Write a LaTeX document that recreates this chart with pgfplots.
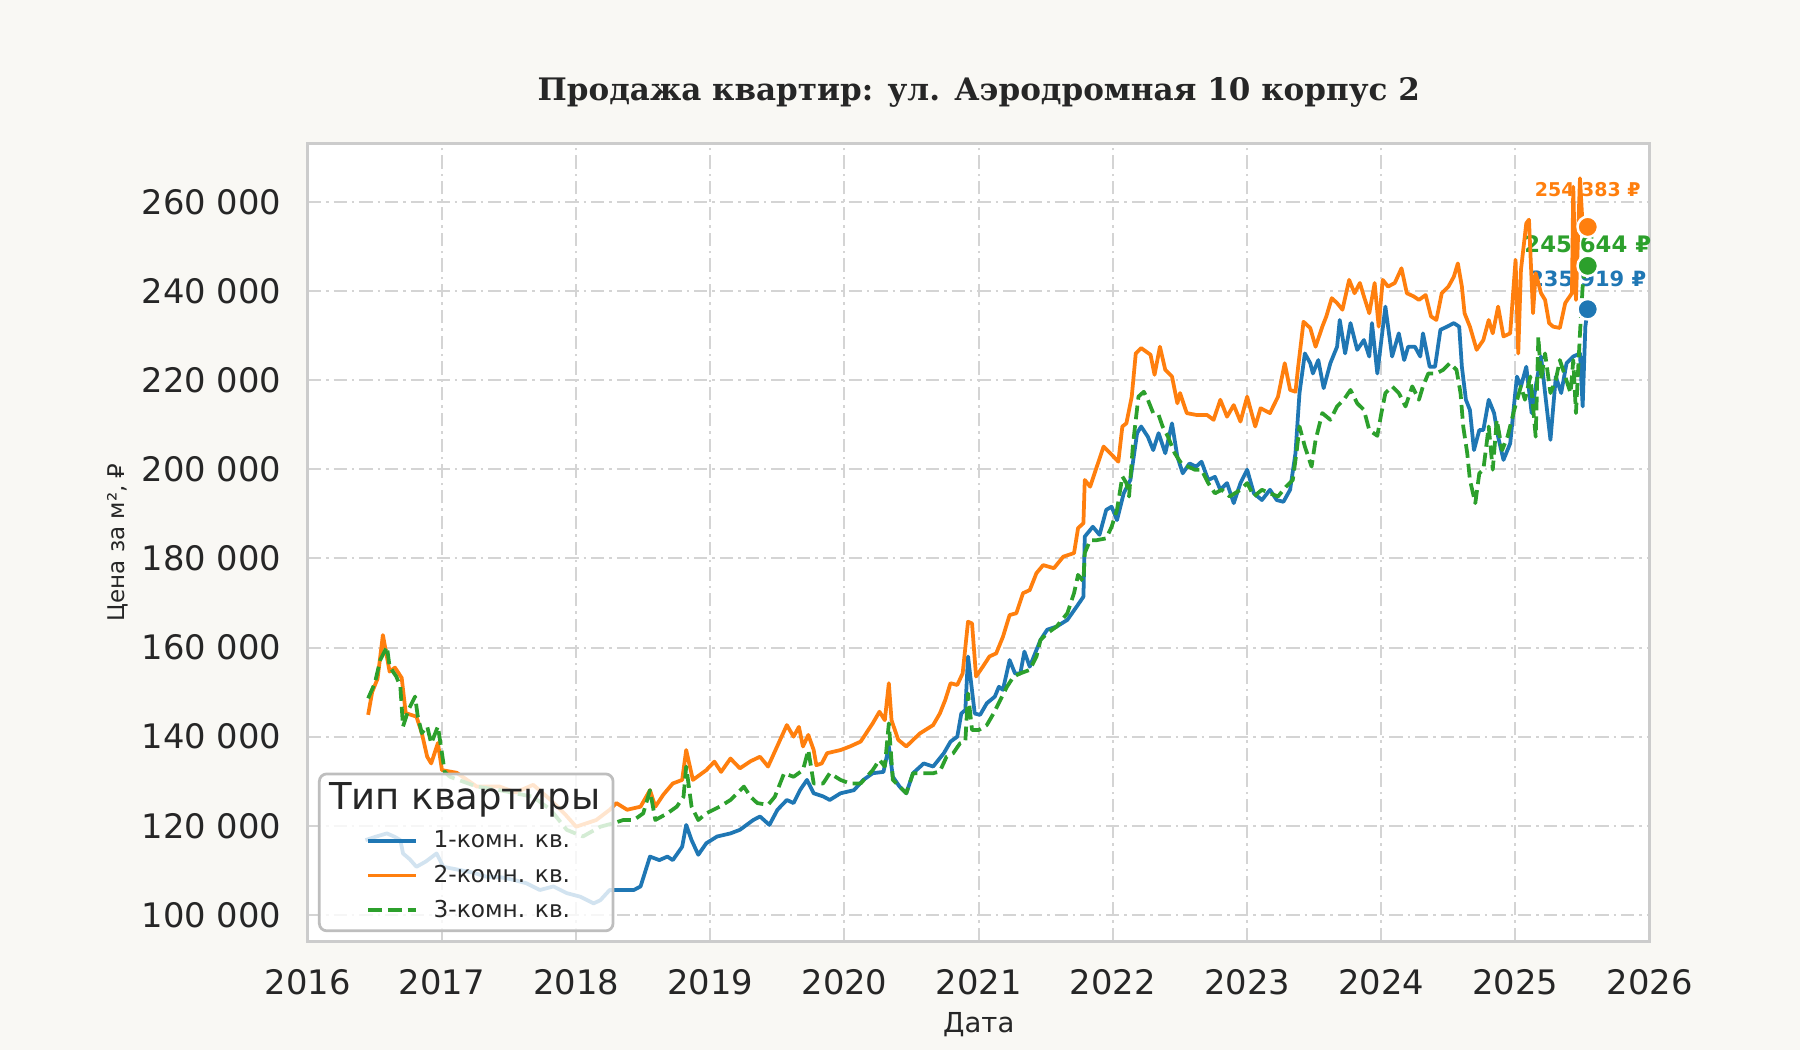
\documentclass[border=0pt]{standalone}
\usepackage{fontspec}
\setmainfont{DejaVu Sans}
\newfontfamily\titlefont{DejaVu Serif}
\usepackage{pgfplots}
\pgfplotsset{compat=1.18}
\definecolor{bg}{RGB}{249,248,244}
\definecolor{gridc}{RGB}{212,212,212}
\definecolor{framec}{RGB}{204,204,204}
\definecolor{legc}{RGB}{190,190,190}
\definecolor{txt}{RGB}{38,38,38}
\definecolor{c1}{HTML}{1F77B4}
\definecolor{c2}{HTML}{FF7F0E}
\definecolor{c3}{HTML}{2CA02C}
\begin{document}
\begin{tikzpicture}
\fill[bg] (0,0) rectangle (720pt,420pt);
\useasboundingbox (0,0) rectangle (720pt,420pt);
\begin{axis}[
  at={(123.1pt,43.5pt)}, anchor=south west,
  width=536.8pt, height=319.1pt, scale only axis,
  xmin=2016, xmax=2026, ymin=94.1, ymax=273.1,
  clip mode=individual,
  axis background/.style={fill=white},
  axis line style={draw=framec, line width=1.3pt},
  major tick length=0pt,
  xtick={2016,2017,...,2026},
  xticklabels={2016,2017,2018,2019,2020,2021,2022,2023,2024,2025,2026},
  ytick={100,120,...,260},
  yticklabels={100 000,120 000,140 000,160 000,180 000,200 000,220 000,240 000,260 000},
  ticklabel style={font=\fontsize{13.5}{16}\selectfont, text=txt, inner sep=0pt},
  xticklabel shift=11pt,
  yticklabel shift=10.4pt,
  grid=major,
  major grid style={draw=gridc, line width=0.8pt, dash pattern=on 5.3pt off 2pt on 1pt off 2pt},
  title={Продажа квартир: ул. Аэродромная 10 корпус 2},
  title style={font=\titlefont\bfseries\fontsize{12.4}{15}\selectfont, text=txt, at={(axis description cs:0.5,1.0448)}, anchor=center, inner sep=0pt},
  xlabel={Дата},
  xlabel style={font=\fontsize{11}{13}\selectfont, text=txt, at={(axis description cs:0.5,-0.1044)}, anchor=center, inner sep=0pt},
  ylabel={Цена за м², ₽},
  ylabel style={font=\fontsize{9.2}{11}\selectfont, text=txt, at={(axis description cs:-0.1418,0.5)}, anchor=center, inner sep=0pt},
  legend style={at={(0.0076,0.0113)}, anchor=south west, draw=legc, line width=1.1pt, rounded corners=3pt,
    fill=white, fill opacity=0.8, draw opacity=1, text opacity=1, inner xsep=4pt, inner ysep=2pt,
    font=\fontsize{9.3}{11}\selectfont, text=txt, cells={anchor=west}, row sep=1.5pt},
  legend image code/.code={\path (0pt,0pt) (38.2pt,0pt); \draw (14.8pt,0pt) -- (34.1pt,0pt);},
  every axis plot/.append style={line width=1.5pt, line join=round},
]
\addlegendimage{empty legend}
\addlegendentry{\makebox[65.8pt][l]{\hspace*{-41.8pt}\fontsize{14.8}{17}\selectfont\raisebox{1.6pt}[\dimexpr\height+0.9pt\relax][\depth]{Тип квартиры}\rule[-6.7pt]{0pt}{0pt}}}

\node[text=c2, font=\bfseries\fontsize{7.6}{9}\selectfont] at (axis cs:2025.538,262.8) {254 383 ₽};
\node[text=c3, font=\bfseries\fontsize{9.1}{11}\selectfont] at (axis cs:2025.538,250.5) {245 644 ₽};
\node[text=c1, font=\bfseries\fontsize{8.4}{10}\selectfont] at (axis cs:2025.538,242.7) {235 919 ₽};

% 1-komn
\addplot[c1] coordinates {
(2016.43,116.8)(2016.50,117.5)(2016.59,118.3)(2016.65,117.5)(2016.69,116.8)(2016.71,113.8)(2016.76,112.5)
(2016.81,110.8)(2016.88,112.0)(2016.96,113.8)(2017.01,110.8)(2017.13,110.1)(2017.23,109.5)(2017.33,108.6)
(2017.43,108.5)(2017.53,107.9)(2017.63,107.1)(2017.73,105.6)(2017.83,106.4)(2017.93,104.9)(2018.03,104.1)
(2018.13,102.6)(2018.18,103.3)(2018.25,105.6)(2018.33,105.6)(2018.43,105.6)(2018.48,106.4)(2018.55,113.1)
(2018.62,112.3)(2018.68,113.1)(2018.72,112.3)(2018.79,115.3)(2018.82,120.2)(2018.86,116.8)(2018.91,113.5)
(2018.97,116.1)(2019.05,117.6)(2019.15,118.3)(2019.22,119.1)(2019.32,121.3)(2019.37,122.1)(2019.44,120.2)
(2019.50,123.6)(2019.57,125.8)(2019.62,125.1)(2019.67,128.1)(2019.72,130.3)(2019.77,127.3)(2019.84,126.6)
(2019.89,125.8)(2019.97,127.3)(2020.07,128.0)(2020.14,130.3)(2020.21,131.8)(2020.29,132.1)(2020.33,137.8)
(2020.36,131.0)(2020.41,128.8)(2020.46,127.3)(2020.51,131.8)(2020.59,134.0)(2020.66,133.3)(2020.74,136.3)
(2020.79,138.9)(2020.84,140.0)(2020.87,145.2)(2020.90,146.0)(2020.92,158.0)(2020.97,145.2)(2021.01,144.9)
(2021.06,147.5)(2021.12,149.0)(2021.15,151.2)(2021.18,150.5)(2021.23,157.2)(2021.27,154.2)(2021.31,154.2)
(2021.34,159.1)(2021.38,155.7)(2021.46,161.7)(2021.51,164.0)(2021.58,164.7)(2021.66,166.2)(2021.73,169.2)
(2021.78,171.4)(2021.79,184.9)(2021.85,187.1)(2021.90,185.3)(2021.95,190.9)(2021.99,191.6)(2022.03,188.6)
(2022.08,194.6)(2022.13,197.6)(2022.18,208.1)(2022.21,209.6)(2022.26,207.3)(2022.30,204.3)(2022.34,208.1)
(2022.39,203.6)(2022.44,210.3)(2022.48,202.8)(2022.52,199.1)(2022.57,201.3)(2022.62,200.6)(2022.66,201.7)
(2022.71,197.6)(2022.76,198.3)(2022.80,195.4)(2022.85,196.9)(2022.90,192.4)(2022.95,196.9)(2023.00,199.9)
(2023.05,194.6)(2023.11,193.1)(2023.17,195.4)(2023.22,193.1)(2023.27,192.7)(2023.32,195.4)(2023.36,203.6)
(2023.39,217.1)(2023.43,226.0)(2023.47,223.8)(2023.49,221.5)(2023.53,224.5)(2023.57,218.2)(2023.62,223.8)
(2023.67,227.5)(2023.69,233.5)(2023.73,226.0)(2023.77,232.8)(2023.82,226.8)(2023.87,229.0)(2023.91,225.3)
(2023.93,232.8)(2023.97,221.5)(2024.03,236.5)(2024.08,225.3)(2024.13,230.5)(2024.17,224.5)(2024.20,227.5)
(2024.25,227.5)(2024.29,225.3)(2024.31,230.5)(2024.36,223.0)(2024.40,223.0)(2024.44,231.3)(2024.49,232.0)
(2024.54,232.8)(2024.58,232.0)(2024.60,223.0)(2024.63,215.6)(2024.66,213.3)(2024.69,204.3)(2024.73,208.8)
(2024.76,208.8)(2024.80,215.6)(2024.84,212.6)(2024.87,207.3)(2024.91,202.1)(2024.96,205.8)(2025.01,220.8)
(2025.04,218.6)(2025.08,223.0)(2025.12,212.6)(2025.15,218.6)(2025.19,225.3)(2025.22,217.1)(2025.26,206.6)
(2025.30,220.8)(2025.34,217.1)(2025.38,223.8)(2025.43,225.3)(2025.48,226.0)(2025.50,214.1)(2025.52,232.0)
(2025.538,235.919)
};
\addlegendentry{1-комн. кв.}

% 2-komn
\addplot[c2] coordinates {
(2016.45,144.9)(2016.48,150.0)(2016.52,153.0)(2016.56,162.8)(2016.61,154.6)(2016.65,155.5)(2016.70,153.2)
(2016.73,145.3)(2016.81,144.5)(2016.85,140.8)(2016.89,135.5)(2016.92,134.0)(2016.97,138.6)(2017.00,132.5)
(2017.11,131.9)(2017.26,128.8)(2017.43,128.8)(2017.55,127.5)(2017.68,129.2)(2017.81,125.8)(2017.92,122.5)
(2018.00,119.8)(2018.15,121.3)(2018.25,123.6)(2018.30,125.1)(2018.38,123.6)(2018.48,124.3)(2018.55,128.0)
(2018.59,124.3)(2018.65,127.0)(2018.72,129.5)(2018.79,130.3)(2018.82,137.0)(2018.87,130.3)(2018.97,132.5)
(2019.03,134.4)(2019.08,132.1)(2019.15,135.1)(2019.22,132.9)(2019.30,134.5)(2019.37,135.5)(2019.43,133.3)
(2019.52,139.3)(2019.57,142.6)(2019.62,140.0)(2019.66,142.2)(2019.69,137.8)(2019.73,140.4)(2019.77,137.0)
(2019.79,133.6)(2019.83,134.0)(2019.87,136.3)(2019.97,137.0)(2020.04,137.8)(2020.12,138.9)(2020.21,143.0)
(2020.26,145.6)(2020.30,143.7)(2020.33,152.0)(2020.35,143.7)(2020.40,139.3)(2020.46,137.8)(2020.56,140.7)
(2020.66,142.6)(2020.71,145.2)(2020.75,148.2)(2020.79,152.0)(2020.84,151.6)(2020.88,154.2)(2020.92,165.8)
(2020.95,165.4)(2020.98,153.5)(2021.03,155.7)(2021.08,158.0)(2021.13,158.7)(2021.18,162.4)(2021.23,167.3)
(2021.28,167.7)(2021.33,172.2)(2021.38,172.9)(2021.43,176.7)(2021.48,178.5)(2021.56,177.8)(2021.63,180.4)
(2021.71,181.2)(2021.74,186.8)(2021.78,187.9)(2021.79,197.6)(2021.83,196.1)(2021.88,200.6)(2021.93,205.1)
(2021.98,203.6)(2022.04,201.7)(2022.07,209.6)(2022.10,210.3)(2022.14,216.3)(2022.17,226.0)(2022.21,227.2)
(2022.28,225.7)(2022.31,221.2)(2022.35,227.5)(2022.39,222.3)(2022.44,220.8)(2022.48,214.8)(2022.50,217.1)
(2022.55,212.6)(2022.62,212.2)(2022.70,212.2)(2022.75,211.1)(2022.80,215.6)(2022.85,211.8)(2022.90,214.4)
(2022.95,210.7)(2023.00,216.3)(2023.06,209.6)(2023.10,213.7)(2023.17,212.6)(2023.23,216.3)(2023.28,223.8)
(2023.32,217.8)(2023.36,217.4)(2023.38,223.0)(2023.42,233.1)(2023.47,231.7)(2023.51,227.5)(2023.56,232.0)
(2023.59,234.3)(2023.63,238.4)(2023.67,237.3)(2023.71,235.8)(2023.76,242.5)(2023.80,239.5)(2023.84,241.8)
(2023.87,238.8)(2023.91,235.0)(2023.95,241.8)(2023.98,232.0)(2024.01,242.5)(2024.05,241.0)(2024.10,241.8)
(2024.15,245.1)(2024.19,239.5)(2024.24,238.8)(2024.28,238.0)(2024.33,239.1)(2024.37,234.3)(2024.41,233.5)
(2024.45,239.5)(2024.50,241.0)(2024.54,243.2)(2024.57,246.2)(2024.60,241.0)(2024.62,235.0)(2024.66,232.0)
(2024.71,226.8)(2024.76,229.0)(2024.80,233.5)(2024.83,230.5)(2024.87,236.5)(2024.91,229.8)(2024.96,230.5)
(2025.00,247.0)(2025.02,226.0)(2025.04,244.7)(2025.08,255.2)(2025.10,256.0)(2025.13,235.0)(2025.15,244.0)
(2025.19,239.5)(2025.22,238.0)(2025.25,232.8)(2025.28,232.0)(2025.33,231.7)(2025.37,237.3)(2025.42,239.5)
(2025.43,263.4)(2025.45,238.0)(2025.48,265.3)(2025.50,254.5)(2025.538,254.383)
};
\addlegendentry{2-комн. кв.}

% 3-komn
\addplot[c3, dash pattern=on 5.5pt off 2.4pt] coordinates {
(2016.45,148.6)(2016.50,152.0)(2016.54,157.2)(2016.59,160.2)(2016.61,155.7)(2016.66,153.5)(2016.69,151.2)
(2016.71,142.3)(2016.75,146.0)(2016.80,149.0)(2016.82,144.5)(2016.85,140.8)(2016.89,142.3)(2016.92,138.5)
(2016.97,142.3)(2017.00,136.3)(2017.02,132.1)(2017.06,131.0)(2017.26,128.8)(2017.43,128.0)(2017.68,126.5)
(2017.81,123.6)(2017.93,119.1)(2018.05,117.6)(2018.18,119.8)(2018.28,120.6)(2018.35,121.3)(2018.43,121.3)
(2018.50,122.8)(2018.55,128.0)(2018.59,121.3)(2018.68,122.8)(2018.75,124.3)(2018.80,126.5)(2018.82,133.3)
(2018.86,124.3)(2018.91,121.3)(2018.97,122.8)(2019.07,124.3)(2019.15,125.8)(2019.25,128.8)(2019.30,126.5)
(2019.35,125.1)(2019.43,124.7)(2019.48,126.5)(2019.55,131.8)(2019.62,131.0)(2019.69,132.5)(2019.73,137.0)
(2019.77,129.5)(2019.84,129.5)(2019.89,131.8)(2019.97,130.3)(2020.04,129.5)(2020.12,129.5)(2020.21,132.5)
(2020.26,134.8)(2020.30,133.3)(2020.33,143.0)(2020.36,130.3)(2020.41,128.8)(2020.46,127.3)(2020.51,131.8)
(2020.59,131.8)(2020.66,131.8)(2020.71,132.2)(2020.76,135.5)(2020.81,136.3)(2020.86,138.5)(2020.90,138.9)
(2020.92,149.7)(2020.95,141.5)(2021.00,141.5)(2021.06,142.6)(2021.11,145.2)(2021.16,148.2)(2021.21,151.2)
(2021.26,153.5)(2021.31,154.2)(2021.38,155.0)(2021.43,158.0)(2021.46,161.7)(2021.51,163.2)(2021.58,164.7)
(2021.66,167.7)(2021.71,172.2)(2021.74,176.3)(2021.78,174.8)(2021.79,181.2)(2021.83,184.1)(2021.88,184.1)
(2021.95,184.5)(2021.99,187.1)(2022.03,190.9)(2022.07,198.4)(2022.10,196.9)(2022.12,193.9)(2022.15,205.8)
(2022.19,216.3)(2022.23,217.4)(2022.26,215.6)(2022.30,212.6)(2022.34,212.2)(2022.37,209.6)(2022.41,207.3)
(2022.46,203.6)(2022.51,201.3)(2022.56,200.6)(2022.61,199.9)(2022.66,199.9)(2022.71,196.9)(2022.76,194.6)
(2022.81,195.4)(2022.87,193.9)(2022.95,195.4)(2023.00,196.9)(2023.05,193.9)(2023.11,195.4)(2023.17,194.6)
(2023.23,193.9)(2023.29,196.1)(2023.34,197.6)(2023.37,204.3)(2023.39,209.6)(2023.43,205.1)(2023.48,200.6)
(2023.51,206.6)(2023.56,212.6)(2023.62,211.1)(2023.67,214.1)(2023.72,215.6)(2023.77,217.8)(2023.82,214.8)
(2023.87,213.3)(2023.91,208.8)(2023.97,207.5)(2024.00,212.6)(2024.03,217.1)(2024.08,218.6)(2024.13,217.1)
(2024.18,214.1)(2024.23,218.6)(2024.28,215.6)(2024.31,218.6)(2024.35,221.5)(2024.41,221.5)(2024.46,222.3)
(2024.51,223.8)(2024.56,222.3)(2024.59,217.1)(2024.61,209.6)(2024.64,203.6)(2024.66,197.6)(2024.70,192.4)
(2024.73,199.1)(2024.76,199.9)(2024.80,209.6)(2024.83,199.9)(2024.86,211.1)(2024.90,204.3)(2024.94,207.3)
(2024.99,213.3)(2025.04,218.6)(2025.07,215.6)(2025.11,220.8)(2025.15,207.3)(2025.17,229.8)(2025.19,220.1)
(2025.22,226.0)(2025.26,217.1)(2025.30,220.1)(2025.33,224.5)(2025.37,220.8)(2025.41,217.1)(2025.43,224.5)
(2025.45,212.6)(2025.48,230.5)(2025.50,241.0)(2025.52,245.6)(2025.538,245.644)
};
\addlegendentry{3-комн. кв.}

\addplot[forget plot, only marks, mark=*, mark size=4.1pt, mark options={draw=white, fill=c2, line width=1pt, solid}] coordinates {(2025.538,254.383)};
\addplot[forget plot, only marks, mark=*, mark size=4.1pt, mark options={draw=white, fill=c3, line width=1pt, solid}] coordinates {(2025.538,245.644)};
\addplot[forget plot, only marks, mark=*, mark size=4.1pt, mark options={draw=white, fill=c1, line width=1pt, solid}] coordinates {(2025.538,235.919)};
\end{axis}
\end{tikzpicture}
\end{document}
